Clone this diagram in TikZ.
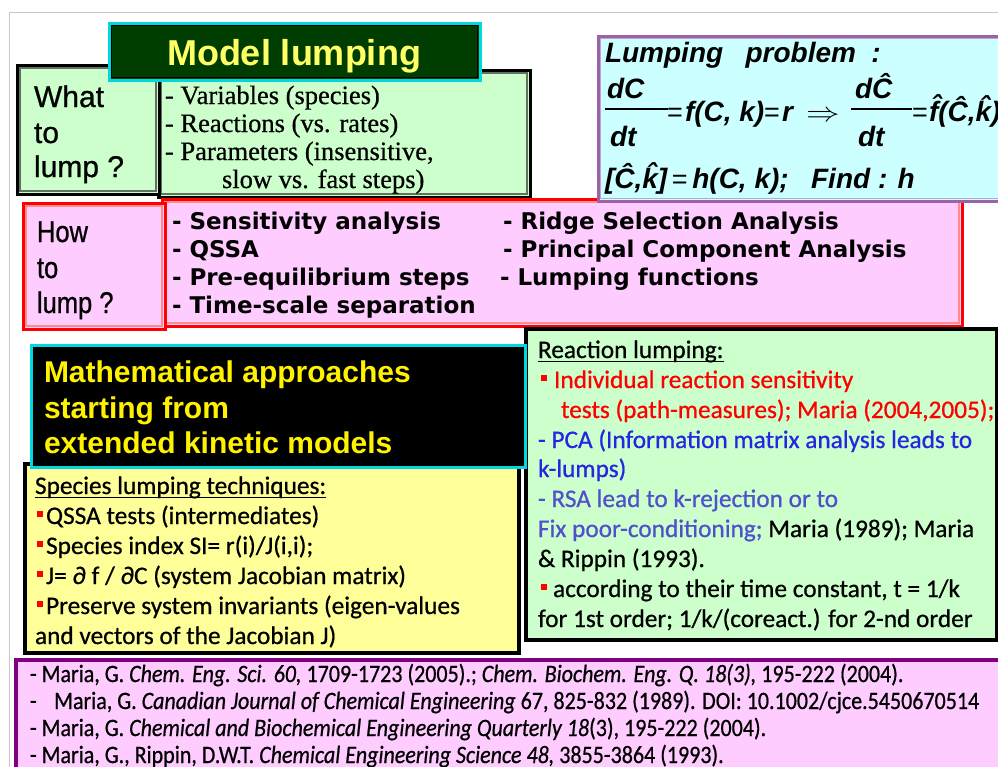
\documentclass[tikz,border=0pt]{standalone}
\usepackage{fontspec}
\usepackage{amsmath}
\usepackage{graphicx}
\setmainfont[FakeBold=0.6]{Liberation Serif}
\newfontfamily\arial{Liberation Sans}
\newfontfamily\arialh[FakeBold=0.8]{Liberation Sans}
\newfontfamily\arialn[FakeStretch=0.85,FakeBold=0.8]{Liberation Sans}
\newfontfamily\verd{DejaVu Sans}
\newfontfamily\calib[FakeBold=0.7]{Carlito}
\newfontfamily\calibn[FakeStretch=0.88,FakeBold=0.6]{Carlito}

\definecolor{lgreen}{HTML}{CCFFCC}
\definecolor{lpink}{HTML}{FFCCFF}
\definecolor{lcyan}{HTML}{CCFFFF}
\definecolor{lyellow}{HTML}{FFFF99}
\definecolor{dgreen}{HTML}{003D00}
\definecolor{edgegreen}{HTML}{5E725E}
\definecolor{cyanedge}{HTML}{00D8E0}
\definecolor{mauve}{HTML}{9B62A8}
\definecolor{refpurple}{HTML}{800080}
\definecolor{bred}{HTML}{FF0000}
\definecolor{softred}{HTML}{FF8C8C}
\definecolor{titleyellow}{HTML}{FFFF66}
\definecolor{pcablue}{HTML}{2626E0}
\definecolor{rsablue}{HTML}{5050CC}
\definecolor{framegray}{HTML}{C8C8C8}

\newcommand\fsz[2]{\fontsize{#1}{#2}\selectfont}
\newcommand\redsq{\textcolor{bred}{\rule[0.26em]{0.24em}{0.24em}}}

\begin{document}
\begin{tikzpicture}[x=1pt,y=-1pt,
  txt/.style={anchor=base west,inner sep=0pt,outer sep=0pt},
  ctxt/.style={anchor=base,inner sep=0pt,outer sep=0pt},
  eqf/.style={txt,font=\arial\bfseries\itshape\fsz{28}{30}},
  eqs/.style={txt,font=\arial\fsz{27}{30}},
  varf/.style={txt,font=\rmfamily\fsz{26.5}{28}},
  askf/.style={txt,font=\arialh\fsz{30}{34}},
  howf/.style={txt,font=\arialn\fsz{30}{36}},
  methf/.style={txt,font=\verd\bfseries\fsz{23}{28}},
  mathf/.style={txt,font=\arial\bfseries\fsz{30}{36},text=yellow},
  calf/.style={txt,font=\calib\fsz{25.3}{30}},
  reff/.style={txt,font=\calibn\fsz{25}{27}},
  uline/.style={line width=1.3pt}
]
\useasboundingbox (0,0) rectangle (998,766);
\clip (0,0) rectangle (998,766);
\fill[white] (0,0) rectangle (998,766);

% page frame
\draw[framegray,line width=1pt] (9,770) -- (9,12) -- (1000,12);

% ---------- what to lump ----------
\filldraw[fill=lgreen,draw=black,line width=3pt] (158,70) rectangle (530,197);
\draw[edgegreen,line width=1.5pt] (161,73) rectangle (527,194);
\filldraw[fill=lgreen,draw=black,line width=3pt] (17,65) rectangle (159,194);
\draw[edgegreen,line width=1.5pt] (20,68) rectangle (156,191);

\node[askf] (what1) at (34,107) {What};
\node[askf] (what2) at (34,143) {to};
\node[askf] (what3) at (34,177) {lump ?};

\node[varf] (var1) at (165,104) {- Variables (species)};
\node[varf] (var2) at (165,132) {- Reactions (vs. rates)};
\node[varf] (var3) at (165,160) {- Parameters (insensitive,};
\node[varf] (var4) at (222,188) {slow vs. fast steps)};

% ---------- title ----------
\filldraw[fill=dgreen,draw=cyanedge,line width=3pt] (109,23) rectangle (480,80);
\draw[black,line width=1pt] (111.5,25.5) rectangle (477.5,77.5);
\node[ctxt,font=\arial\bfseries\fsz{36}{40},text=titleyellow] (title) at (294,65) {Model lumping};

% ---------- how to lump ----------
\filldraw[fill=lpink,draw=bred,line width=3pt] (162,199) rectangle (962,326);
\draw[softred,line width=1.5pt] (165,202) rectangle (959,323);

\node[methf] (m1) at (172,229) {- Sensitivity analysis};
\node[methf] (m2) at (172,257) {- QSSA};
\node[methf] (m3) at (172,285) {- Pre-equilibrium steps};
\node[methf] (m4) at (172,313) {- Time-scale separation};
\node[methf] (m5) at (503,229) {- Ridge Selection Analysis};
\node[methf] (m6) at (503,257) {- Principal Component Analysis};
\node[methf] (m7) at (500,285) {- Lumping functions};

\filldraw[fill=lpink,draw=bred,line width=3pt] (23,203) rectangle (165,329);
\draw[softred,line width=1.5pt] (26,206) rectangle (162,326);
\node[howf] (how1) at (37,242) {How};
\node[howf] (how2) at (37,278) {to};
\node[howf] (how3) at (37,313) {lump ?};

% ---------- lumping problem ----------
\filldraw[fill=lcyan,draw=mauve,line width=3pt] (598,36) rectangle (1005,201);
\draw[mauve!60,line width=1pt] (600.5,38.5) rectangle (1002,198.5);

\node[eqf] (lp) at (605,62) {Lumping\hspace{0.8em}problem\hspace{0.55em}:};

\node[eqf] (n1) at (607,98) {dC};
\draw[line width=1.4pt] (605,109) -- (668,109);
\node[eqf] (d1) at (610,146) {dt};
\node[eqs] (eqa) at (667,121) {=};
\node[eqf] (fck) at (685,121) {f(C, k)};
\node[eqs] (eqb) at (764,121) {=};
\node[eqf] (rr) at (782,121) {r};
\node[txt,font=\fsz{28}{30}] (imp) at (806,121) {\scalebox{1.35}[1.1]{$\Rightarrow$}};
\node[eqf] (n2) at (855,98) {d\^{C}};
\draw[line width=1.4pt] (851,109) -- (912,109);
\node[eqf] (d2) at (858,146) {dt};
\node[eqs] (eqc) at (912,121) {=};
\node[eqf] (fhat) at (929,121) {\^{f}(\^{C},\^{k})};

\node[eqf] (h1) at (605,188) {[\^{C},\^{k}]\,{\mdseries\upshape\fsz{27}{30}=}\,h(C, k);\hspace{0.8em}Find : h};

% ---------- reaction lumping ----------
\filldraw[fill=lgreen,draw=black,line width=4pt] (526,329) rectangle (997,640);

\node[calf] (rl) at (538,358) {Reaction lumping:};
\draw[uline] ([yshift=-3.5pt]rl.base west) -- ([yshift=-3.5pt]rl.base east);
\node[calf] (r1) at (541,388) {\redsq\hspace{7pt}\textcolor{bred}{Individual reaction sensitivity}};
\node[calf,text=bred] (r2) at (561,418) {tests (path-measures); Maria (2004,2005);};
\node[calf,text=pcablue] (r3) at (538,448) {- PCA (Information matrix analysis leads to};
\node[calf,text=pcablue] (r4) at (538,477) {k-lumps)};
\node[calf,text=rsablue] (r5) at (538,507) {- RSA lead to k-rejection or to};
\node[calf] (r6) at (538,537) {\textcolor{rsablue}{Fix poor-conditioning;} Maria (1989); Maria};
\node[calf] (r7) at (538,567) {\& Rippin (1993).};
\node[calf] (r8) at (541,597) {\redsq\hspace{6pt}according to their time constant, t = 1/k};
\node[calf] (r9) at (538,627) {for 1st order; 1/k/(coreact.) for 2-nd order};

% ---------- species lumping ----------
\filldraw[fill=lyellow,draw=black,line width=4pt] (25,464) rectangle (519,653);

\node[calf] (sl) at (35,494) {Species lumping techniques:};
\draw[uline] ([yshift=-3.5pt]sl.base west) -- ([yshift=-3.5pt]sl.base east);
\node[calf] (s1) at (37,524) {\redsq\hspace{3pt}QSSA tests (intermediates)};
\node[calf] (s2) at (37,554) {\redsq\hspace{3pt}Species index SI= r(i)/J(i,i);};
\node[calf] (s3) at (37,584) {\redsq\hspace{3pt}J= ∂ f / ∂C (system Jacobian matrix)};
\node[calf] (s4) at (37,614) {\redsq\hspace{3pt}Preserve system invariants (eigen-values};
\node[calf] (s5) at (35,644) {and vectors of the Jacobian J)};

% ---------- mathematical approaches ----------
\filldraw[fill=black,draw=cyanedge,line width=3pt] (31,345) rectangle (525,467);
\node[mathf] (ma1) at (44,382) {Mathematical approaches};
\node[mathf] (ma2) at (44,418) {starting from};
\node[mathf] (ma3) at (44,453) {extended kinetic models};

% ---------- references ----------
\filldraw[fill=lpink,draw=refpurple,line width=4pt] (16,660) rectangle (1010,790);
\node[reff] (ref1) at (30,682) {- Maria, G. \textit{Chem. Eng. Sci. 60,} 1709-1723 (2005).; \textit{Chem. Biochem. Eng. Q. 18(3),} 195-222 (2004).};
\node[reff] (ref2) at (30,709) {-\hspace{0.5em} Maria, G. \textit{Canadian Journal of Chemical Engineering} 67, 825-832 (1989). DOI: 10.1002/cjce.5450670514};
\node[reff] (ref3) at (30,736) {- Maria, G. \textit{Chemical and Biochemical Engineering Quarterly 18}(3), 195-222 (2004).};
\node[reff] (ref4) at (30,763) {- Maria, G., Rippin, D.W.T. \textit{Chemical Engineering Science 48,} 3855-3864 (1993).};
\end{tikzpicture}
\end{document}
